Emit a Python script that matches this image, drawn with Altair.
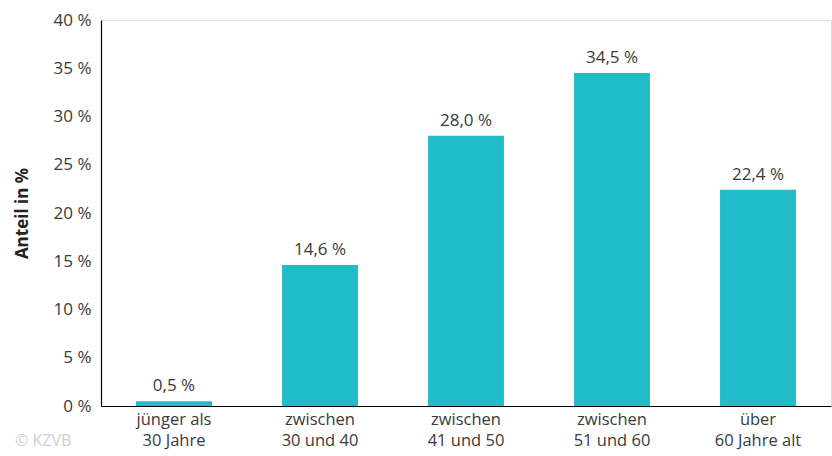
import altair as alt
import pandas as pd

categories = ["jünger als|30 Jahre", "zwischen|30 und 40", "zwischen|41 und 50", "zwischen|51 und 60", "über|60 Jahre alt"]
values = [0.5, 14.6, 28.0, 34.5, 22.4]
y_ticks = [0, 5, 10, 15, 20, 25, 30, 35, 40]

df = pd.DataFrame({"cat": categories, "val": values})

FONT = "Open Sans"
TEXT_COLOR = "#3a3a3a"
BAR_COLOR = "#20BCC7"

base = alt.Chart(df).encode(
    x=alt.X("cat:N", sort=None, title=None,
            scale=alt.Scale(paddingInner=0.48, paddingOuter=0.24),
            axis=alt.Axis(labelAngle=0, ticks=False, domainColor="#000", domainWidth=1.2,
                          labelExpr="split(datum.label, '|')", labelFontSize=16.5,
                          labelColor=TEXT_COLOR, labelFont=FONT, labelPadding=5,
                          labelLineHeight=21, labelBaseline="top")),
)

bars = base.mark_bar(color=BAR_COLOR).encode(
    y=alt.Y("val:Q", title="Anteil in %",
            scale=alt.Scale(domain=[0, 40], nice=False),
            axis=alt.Axis(values=y_ticks, grid=False, ticks=False, domainColor="#000", domainWidth=1.2,
                          labelExpr="datum.value + ' %'", labelFontSize=17, labelColor=TEXT_COLOR,
                          labelFont=FONT, labelPadding=10, titleFont=FONT, titleFontSize=17,
                          titleFontWeight="bold", titleColor="#222", titlePadding=22))
)

labels = base.transform_calculate(
    lbl="replace(format(datum.val, '.1f'), '.', ',') + ' %'"
).mark_text(dy=-15, fontSize=17, font=FONT, color=TEXT_COLOR).encode(
    y=alt.Y("val:Q"),
    text="lbl:N",
)

wm = alt.Chart(pd.DataFrame({"t": ["© KZVB"]})).mark_text(
    align="left", baseline="middle", fontSize=16, font=FONT, color="#cfcfcf"
).encode(x=alt.value(-86), y=alt.value(421), text="t:N")

chart = alt.layer(bars, labels, wm).properties(
    width=730, height=386,
    autosize=alt.AutoSizeParams(type="none"),
    padding={"left": 101, "top": 20, "right": 1, "bottom": 50},
).configure_view(stroke=None).configure(background="white")

chart.save("out.html", embed_options={"renderer": "svg", "actions": False})
